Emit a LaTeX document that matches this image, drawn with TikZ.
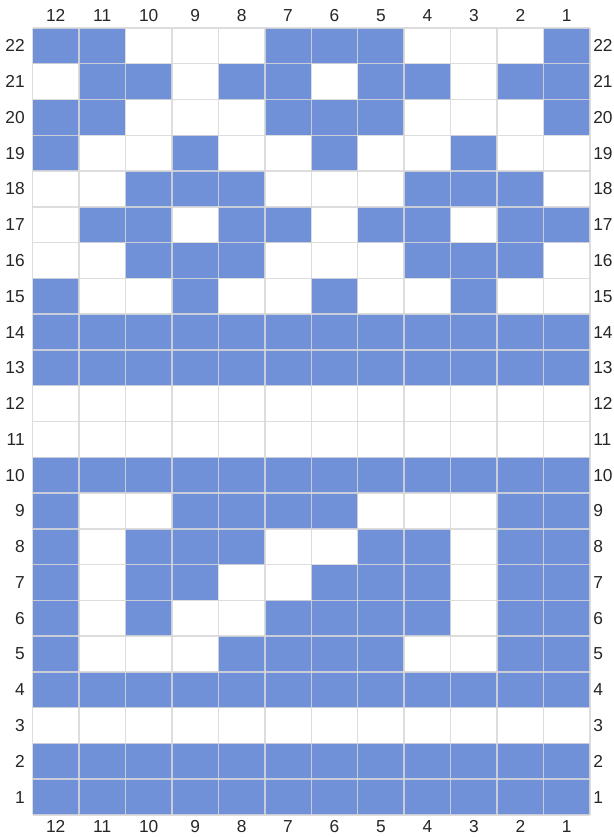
\documentclass[tikz,border=0pt]{standalone}
\usepackage{fontspec}
\setmainfont{Liberation Sans}
\definecolor{cellblue}{HTML}{7090D8}
\definecolor{gridgray}{HTML}{D8D8D8}
\begin{document}
\begin{tikzpicture}[x=0.75pt,y=-0.75pt,
  lab/.style={font=\fontsize{13}{13}\selectfont, inner sep=0pt, text=black!85},
  cellfill/.style={fill=cellblue},
  gridline/.style={draw=gridgray, line width=1.1pt, opacity=0.85}]
\useasboundingbox (0,0) rectangle (613,837);
\fill[white] (0,0) rectangle (613,837);
\def\xo{32.5}\def\cw{46.46}\def\yo{28}\def\rh{35.77}
\foreach \r/\pat in {
 22/{1,1,0,0,0,1,1,1,0,0,0,1},
 21/{0,1,1,0,1,1,0,1,1,0,1,1},
 20/{1,1,0,0,0,1,1,1,0,0,0,1},
 19/{1,0,0,1,0,0,1,0,0,1,0,0},
 18/{0,0,1,1,1,0,0,0,1,1,1,0},
 17/{0,1,1,0,1,1,0,1,1,0,1,1},
 16/{0,0,1,1,1,0,0,0,1,1,1,0},
 15/{1,0,0,1,0,0,1,0,0,1,0,0},
 14/{1,1,1,1,1,1,1,1,1,1,1,1},
 13/{1,1,1,1,1,1,1,1,1,1,1,1},
 12/{0,0,0,0,0,0,0,0,0,0,0,0},
 11/{0,0,0,0,0,0,0,0,0,0,0,0},
 10/{1,1,1,1,1,1,1,1,1,1,1,1},
 9/{1,0,0,1,1,1,1,0,0,0,1,1},
 8/{1,0,1,1,1,0,0,1,1,0,1,1},
 7/{1,0,1,1,0,0,1,1,1,0,1,1},
 6/{1,0,1,0,0,1,1,1,1,0,1,1},
 5/{1,0,0,0,1,1,1,1,0,0,1,1},
 4/{1,1,1,1,1,1,1,1,1,1,1,1},
 3/{0,0,0,0,0,0,0,0,0,0,0,0},
 2/{1,1,1,1,1,1,1,1,1,1,1,1},
 1/{1,1,1,1,1,1,1,1,1,1,1,1}}{
  \foreach[count=\c] \v in \pat {
    \ifnum\v=1
      \fill[cellfill] ({\xo+(\c-1)*\cw},{\yo+(22-\r)*\rh}) rectangle ++(\cw,\rh);
    \fi
  }
}
\foreach \i in {0,...,12}
  \draw[gridline] ({\xo+\i*\cw},\yo) -- ({\xo+\i*\cw},{\yo+22*\rh});
\foreach \j in {0,...,22}
  \draw[gridline] (\xo,{\yo+\j*\rh}) -- ({\xo+12*\cw},{\yo+\j*\rh});
\foreach \c in {1,...,12}{
  \pgfmathtruncatemacro\n{13-\c}
  \node[lab] (top\n) at ({\xo+(\c-0.5)*\cw},15.5) {\n};
  \node[lab] (bot\n) at ({\xo+(\c-0.5)*\cw},826.5) {\n};
}
\foreach \r in {1,...,22}{
  \node[lab,anchor=east] (left\r) at (25,{\yo+(22-\r+0.5)*\rh}) {\r};
  \node[lab,anchor=west] (right\r) at (593,{\yo+(22-\r+0.5)*\rh}) {\r};
}
\end{tikzpicture}
\end{document}
